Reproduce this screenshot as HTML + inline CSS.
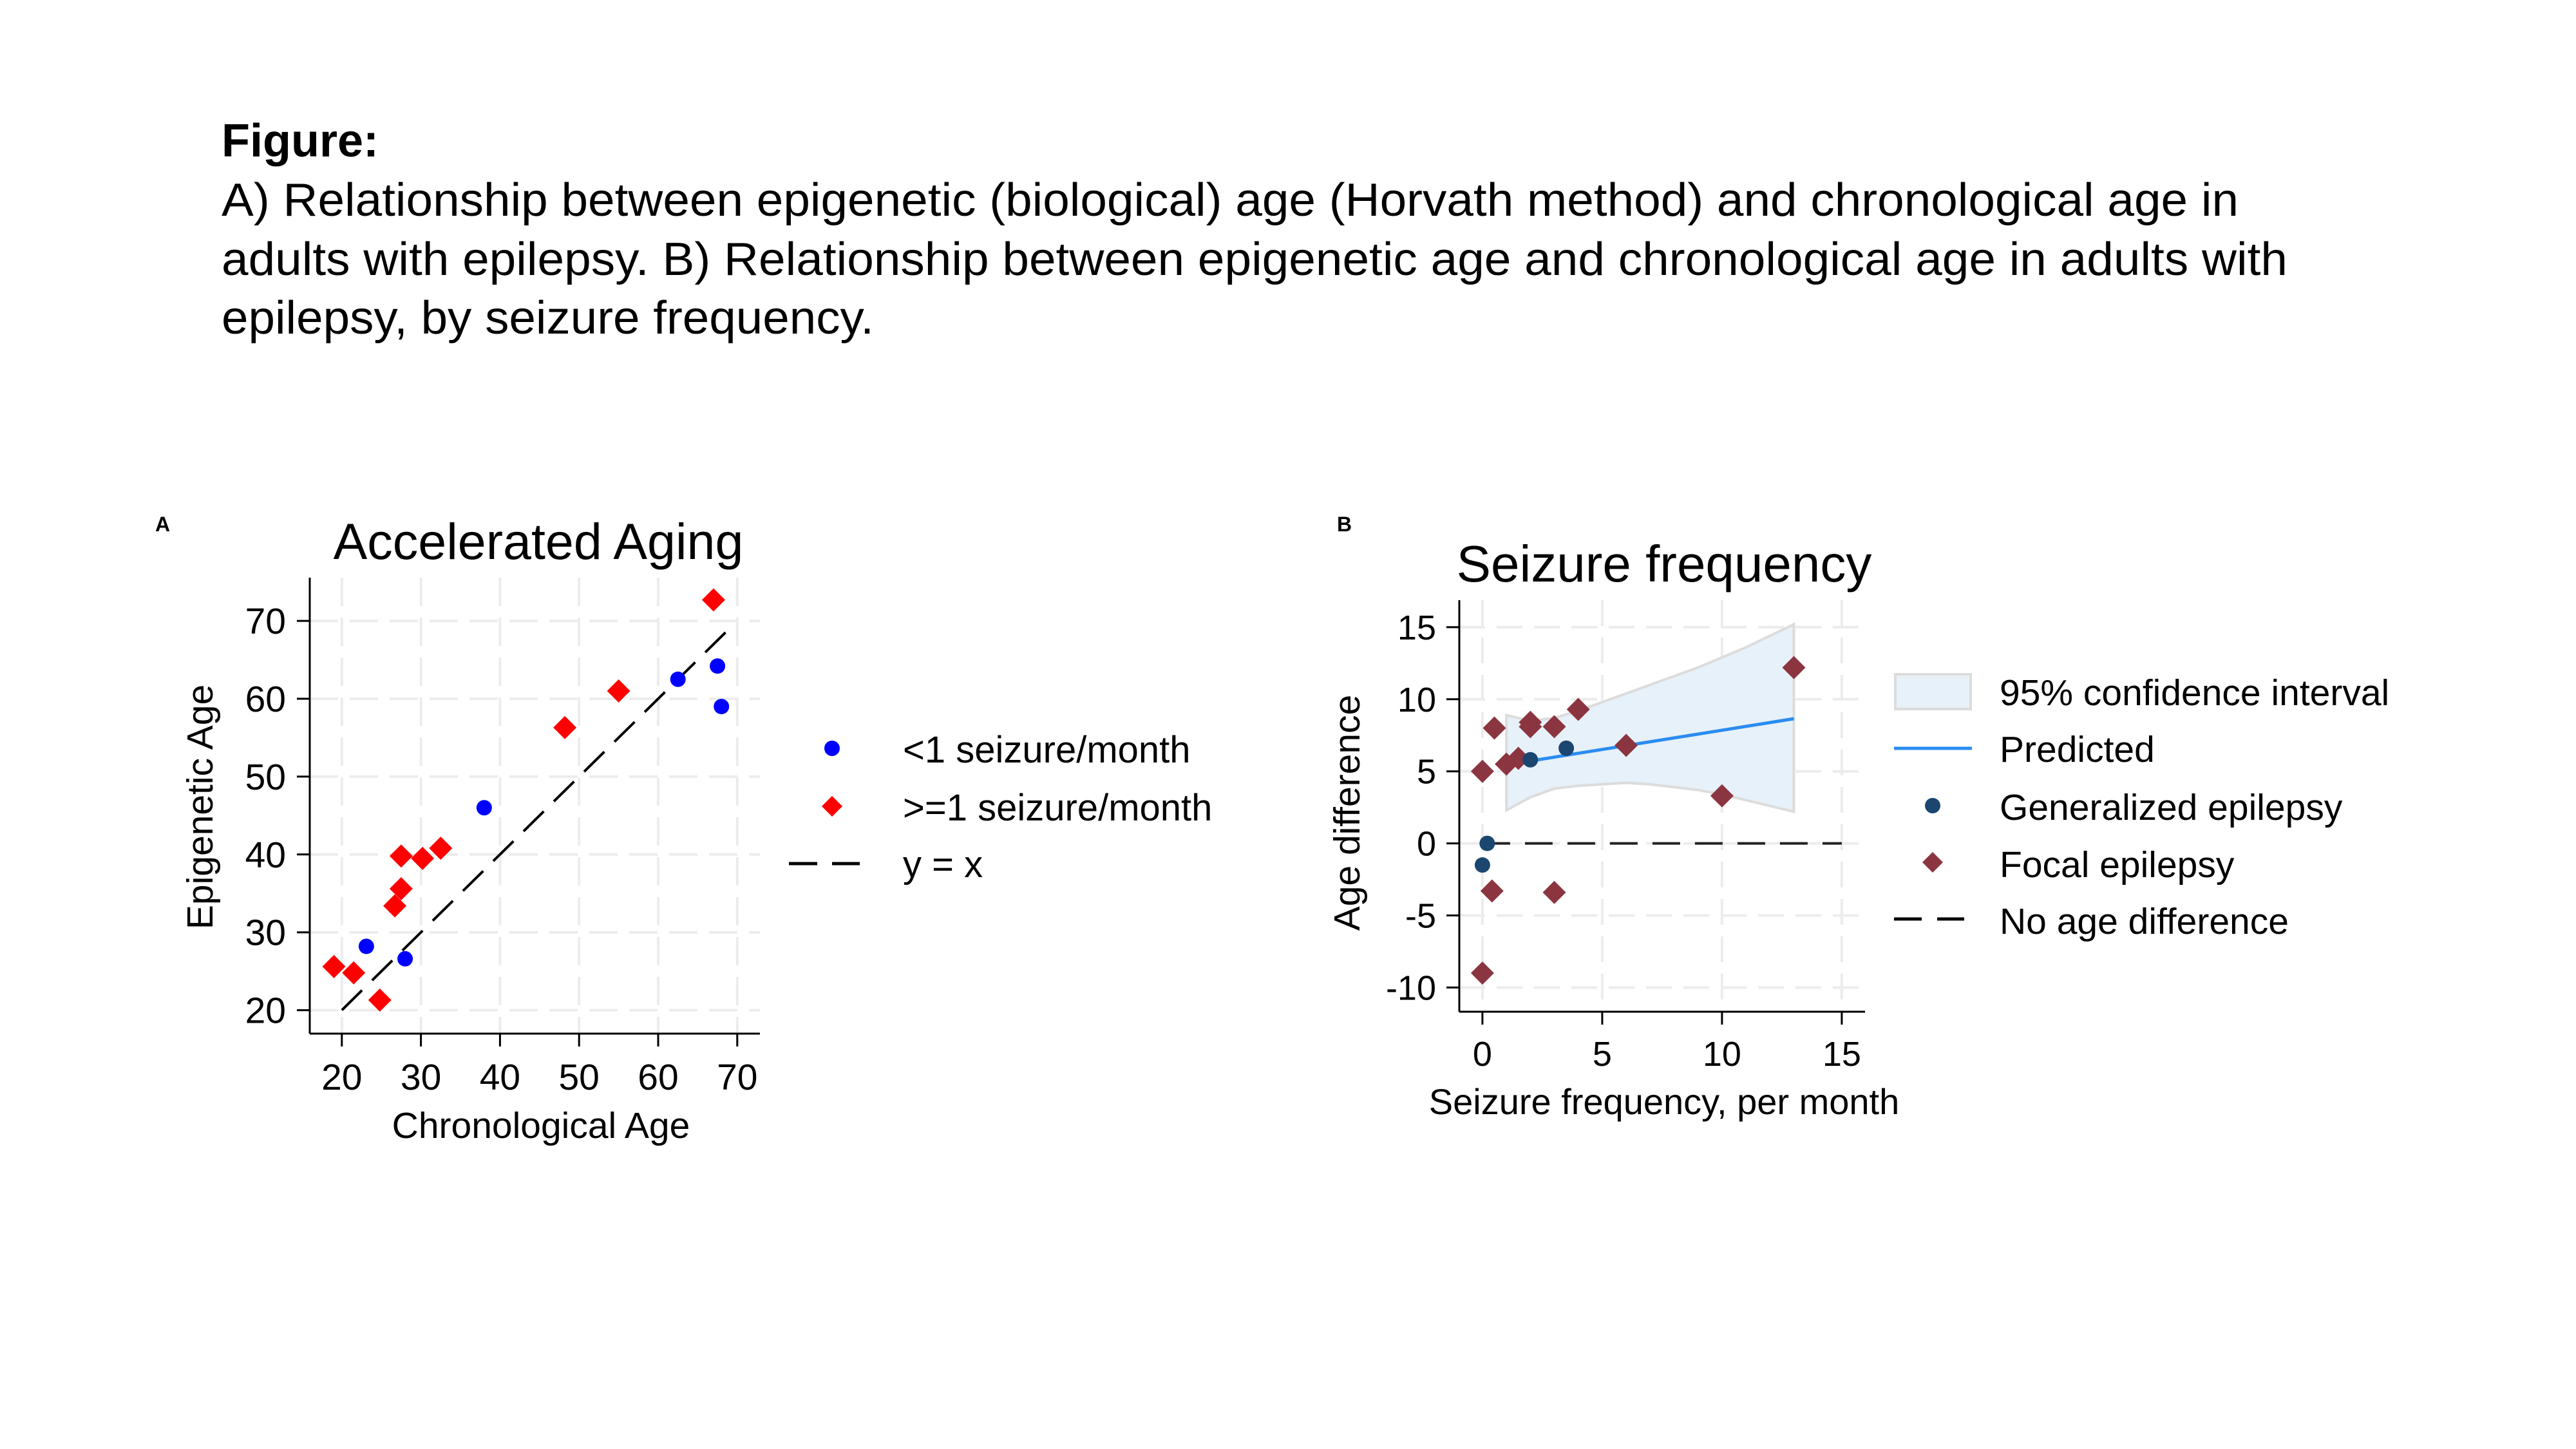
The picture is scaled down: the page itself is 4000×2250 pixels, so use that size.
<!DOCTYPE html>
<html><head><meta charset="utf-8"><style>
html,body{margin:0;padding:0;background:#fff;}
svg{display:block;font-family:"Liberation Sans",Arial,sans-serif;}
</style></head><body>
<svg id="s" width="4000" height="2250" viewBox="0 0 4000 2250" xmlns="http://www.w3.org/2000/svg">
<rect width="4000" height="2250" fill="#fff"/>
<text x="344" y="243" font-size="72" font-weight="bold">Figure:</text>
<text x="344" y="335" font-size="72" textLength="3132" lengthAdjust="spacingAndGlyphs">A) Relationship between epigenetic (biological) age (Horvath method) and chronological age in</text>
<text x="344" y="427" font-size="72" textLength="3208" lengthAdjust="spacingAndGlyphs">adults with epilepsy. B) Relationship between epigenetic age and chronological age in adults with</text>
<text x="344" y="518" font-size="72" textLength="1013" lengthAdjust="spacingAndGlyphs">epilepsy, by seizure frequency.</text>

<text x="241" y="825" font-size="32" font-weight="bold">A</text>
<text x="2076" y="825" font-size="32" font-weight="bold">B</text>

<g id="A"></g>
<g id="B"></g>
</svg>
<script>
var NS="http://www.w3.org/2000/svg";
function el(p,t,a,txt){var e=document.createElementNS(NS,t);for(var k in a)e.setAttribute(k,a[k]);if(txt!=null)e.textContent=txt;p.appendChild(e);return e;}
function diamond(p,x,y,r,c){el(p,"polygon",{points:(x)+","+(y-r)+" "+(x+r)+","+y+" "+x+","+(y+r)+" "+(x-r)+","+y,fill:c});}
// Panel A
var A=document.getElementById("A");
function AX(v){return 530.8+(v-20)*12.28;} function AY(v){return 1568.6-(v-20)*12.09;}
var L=481,R=1180,T=897,Bt=1605;
for(var v=20;v<=70;v+=10){
 el(A,"line",{x1:AX(v),x2:AX(v),y1:T,y2:Bt,stroke:"#ececec","stroke-width":4,"stroke-dasharray":"44 18"});
 el(A,"line",{x1:L,x2:R,y1:AY(v),y2:AY(v),stroke:"#ececec","stroke-width":4,"stroke-dasharray":"44 18"});
 el(A,"line",{x1:AX(v),x2:AX(v),y1:Bt,y2:Bt+20,stroke:"#000","stroke-width":3});
 el(A,"line",{x1:L-20,x2:L,y1:AY(v),y2:AY(v),stroke:"#000","stroke-width":3});
 el(A,"text",{x:AX(v),y:1692,"font-size":57,"text-anchor":"middle"},v);
 el(A,"text",{x:444,y:AY(v)+20,"font-size":57,"text-anchor":"end"},v);
}
el(A,"line",{x1:L,x2:L,y1:T,y2:Bt,stroke:"#000","stroke-width":3});
el(A,"line",{x1:L,x2:R,y1:Bt,y2:Bt,stroke:"#000","stroke-width":3});
el(A,"line",{x1:AX(20),y1:AY(20),x2:AX(69),y2:AY(69),stroke:"#000","stroke-width":4,"stroke-dasharray":"44 22"});
[[19,25.6],[21.5,24.8],[24.8,21.3],[26.7,33.4],[27.5,35.6],[27.5,39.8],[30.2,39.5],[32.5,40.8],[48.2,56.3],[55,61],[67,72.7]].forEach(function(d){diamond(A,AX(d[0]),AY(d[1]),18,"#ff0000");});
[[23.1,28.2],[28,26.6],[38,46],[62.5,62.5],[67.5,64.2],[68,59]].forEach(function(d){el(A,"circle",{cx:AX(d[0]),cy:AY(d[1]),r:12,fill:"#0000ff"});});
el(A,"text",{x:836,y:868,"font-size":79,"text-anchor":"middle"},"Accelerated Aging");
el(A,"text",{x:840,y:1767,"font-size":57,"text-anchor":"middle"},"Chronological Age");
el(A,"text",{x:0,y:0,"font-size":57,"text-anchor":"middle",transform:"translate(330,1253) rotate(-90)"},"Epigenetic Age");
// legend A
el(A,"circle",{cx:1292,cy:1162,r:12,fill:"#0000ff"});
el(A,"text",{x:1402,y:1184,"font-size":58},"<1 seizure/month");
diamond(A,1292,1252,16,"#ff0000");
el(A,"text",{x:1402,y:1274,"font-size":58},">=1 seizure/month");
el(A,"line",{x1:1225,x2:1269,y1:1341,y2:1341,stroke:"#000","stroke-width":5});
el(A,"line",{x1:1292,x2:1335,y1:1341,y2:1341,stroke:"#000","stroke-width":5});
el(A,"text",{x:1402,y:1362,"font-size":58},"y = x");
// Panel B
var B=document.getElementById("B");
function BX(v){return 2301.9+v*37.2;} function BY(v){return 1309.6-v*22.38;}
var L2=2266,R2=2896,T2=932,B2=1571;
for(var v=0;v<=15;v+=5){
 el(B,"line",{x1:BX(v),x2:BX(v),y1:T2,y2:B2,stroke:"#ececec","stroke-width":4,"stroke-dasharray":"40 18"});
 el(B,"line",{x1:BX(v),x2:BX(v),y1:B2,y2:B2+20,stroke:"#000","stroke-width":3});
 el(B,"text",{x:BX(v),y:1655,"font-size":54,"text-anchor":"middle"},v);
}
for(var v=-10;v<=15;v+=5){
 el(B,"line",{x1:L2,x2:R2,y1:BY(v),y2:BY(v),stroke:"#ececec","stroke-width":4,"stroke-dasharray":"40 18"});
 el(B,"line",{x1:L2-20,x2:L2,y1:BY(v),y2:BY(v),stroke:"#000","stroke-width":3});
 el(B,"text",{x:2230,y:BY(v)+19,"font-size":54,"text-anchor":"end"},v);
}
el(B,"line",{x1:L2,x2:L2,y1:T2,y2:B2,stroke:"#000","stroke-width":3});
el(B,"line",{x1:L2,x2:R2,y1:B2,y2:B2,stroke:"#000","stroke-width":3});
var up=[[1,8.9],[2,8.5],[3,8.7],[4,9.2],[5,9.8],[6,10.4],[7,11.0],[8,11.6],[9,12.2],[10,12.9],[11,13.6],[12,14.4],[13,15.2]];
var lo=[[13,2.2],[12,2.6],[11,3.0],[10,3.4],[9,3.7],[8,3.9],[7,4.1],[6,4.2],[5,4.1],[4,4.0],[3,3.8],[2,3.2],[1,2.3]];
el(B,"polygon",{points:up.concat(lo).map(function(d){return BX(d[0])+","+BY(d[1]);}).join(" "),fill:"#e7f1f9",stroke:"#dcdcdc","stroke-width":4});
el(B,"line",{x1:BX(0),x2:BX(15),y1:BY(0),y2:BY(0),stroke:"#222","stroke-width":4,"stroke-dasharray":"43 23"});
el(B,"line",{x1:BX(1),y1:BY(5.45),x2:BX(13),y2:BY(8.65),stroke:"#2a8cf0","stroke-width":5});
[[0,5],[0.5,8],[1,5.5],[1.5,5.9],[2,8.4],[2,8.1],[3,8.1],[4,9.3],[6,6.8],[10,3.3],[13,12.2],[0.4,-3.3],[3,-3.4],[0,-9]].forEach(function(d){diamond(B,BX(d[0]),BY(d[1]),18,"#8b3540");});
[[0.2,0],[0,-1.5],[2,5.8],[3.5,6.6]].forEach(function(d){el(B,"circle",{cx:BX(d[0]),cy:BY(d[1]),r:12,fill:"#1a4670"});});
el(B,"text",{x:2584,y:903,"font-size":80,"text-anchor":"middle"},"Seizure frequency");
el(B,"text",{x:2584,y:1730,"font-size":56,"text-anchor":"middle"},"Seizure frequency, per month");
el(B,"text",{x:0,y:0,"font-size":57,"text-anchor":"middle",transform:"translate(2111,1262) rotate(-90)"},"Age difference");
// legend B
el(B,"rect",{x:2943,y:1047,width:117,height:54,fill:"#e7f1f9",stroke:"#dcdcdc","stroke-width":4});
el(B,"text",{x:3105,y:1095,"font-size":57},"95% confidence interval");
el(B,"line",{x1:2941,x2:3062,y1:1162,y2:1162,stroke:"#2a8cf0","stroke-width":5});
el(B,"text",{x:3105,y:1183,"font-size":57},"Predicted");
el(B,"circle",{cx:3001,cy:1251,r:12,fill:"#1a4670"});
el(B,"text",{x:3105,y:1273,"font-size":57},"Generalized epilepsy");
diamond(B,3001,1339,16,"#8b3540");
el(B,"text",{x:3105,y:1362,"font-size":57},"Focal epilepsy");
el(B,"line",{x1:2941,x2:2984,y1:1427,y2:1427,stroke:"#000","stroke-width":5});
el(B,"line",{x1:3008,x2:3050,y1:1427,y2:1427,stroke:"#000","stroke-width":5});
el(B,"text",{x:3105,y:1450,"font-size":57},"No age difference");
</script>
</body></html>
